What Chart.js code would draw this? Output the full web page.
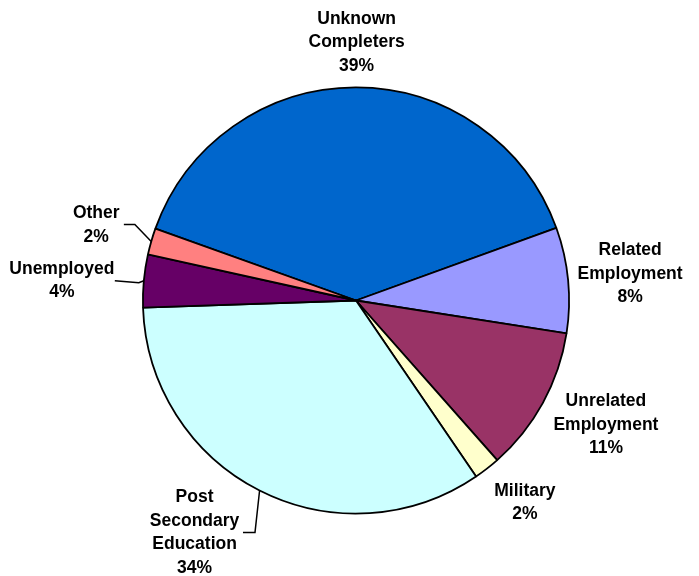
<!DOCTYPE html>
<html>
<head>
<meta charset="utf-8">
<script src="https://cdn.jsdelivr.net/npm/chart.js@4/dist/chart.umd.min.js"></script>
<style>
  html, body { margin: 0; padding: 0; background: #fff; }
  #wrap { width: 699px; height: 576px; }
</style>
</head>
<body>
<div id="wrap"><canvas id="pieChart"></canvas></div>
<script>
const categories = [
    ["Unknown", "Completers"],
    ["Related", "Employment"],
    ["Unrelated", "Employment"],
    ["Military"],
    ["Post", "Secondary", "Education"],
    ["Unemployed"],
    ["Other"]
]
const shares = [39, 8, 11, 2, 34, 4, 2]
const sliceColors = ["#0066CC", "#9999FF", "#993366", "#FFFFCC", "#CCFFFF", "#660066", "#FF8080"]

// label placement relative to the slice's outer edge point (mid angle)
const labelLayout = [
    { dx: 1, dy: -45 },
    { dx: 62, dy: -6 },
    { dx: 63, dy: 22 },
    { dx: 38, dy: 34 },
    { dx: -65, dy: 42, leader: [[-4.6, 42], [-16.6, 42]] },
    { dx: -82, dy: 0, leader: [[-5, 2], [-29, 0]] },
    { dx: -55, dy: -16, leader: [[-16.4, -17], [-27.4, -17]] }
]

const outsideLabels = {
    id: "outsideLabels",
    afterDraw(chart) {
        const ctx = chart.ctx
        const arcs = chart.getDatasetMeta(0).data
        ctx.save()
        ctx.font = "bold 17.5px 'Liberation Sans', Arial, sans-serif"
        ctx.fillStyle = "#000"
        ctx.textAlign = "center"
        ctx.textBaseline = "middle"
        arcs.forEach((arc, i) => {
            const mid = (arc.startAngle + arc.endAngle) / 2
            const ex = arc.x + Math.cos(mid) * arc.outerRadius
            const ey = arc.y + Math.sin(mid) * arc.outerRadius
            const lay = labelLayout[i]
            if (lay.leader) {
                ctx.beginPath()
                ctx.lineWidth = 1.5
                ctx.strokeStyle = "#000"
                ctx.moveTo(ex, ey)
                lay.leader.forEach(p => ctx.lineTo(ex + p[0], ey + p[1]))
                ctx.stroke()
            }
            const lines = categories[i].concat([shares[i] + "%"])
            const lh = 23.5
            const top = ey + lay.dy - (lines.length - 1) * lh / 2
            lines.forEach((t, k) => ctx.fillText(t, ex + lay.dx, top + k * lh))
        })
        ctx.restore()
    }
}

new Chart(document.getElementById("pieChart"), {
    type: "pie",
    data: {
        labels: categories.map(c => c.join(" ")),
        datasets: [{
            data: shares,
            backgroundColor: sliceColors,
            borderColor: "#000",
            borderWidth: 1.8
        }]
    },
    options: {
        responsive: true,
        maintainAspectRatio: false,
        animation: false,
        rotation: -70.3,
        layout: { padding: { top: 86, bottom: 61, left: 142, right: 129 } },
        plugins: {
            legend: { display: false },
            tooltip: { enabled: false }
        }
    },
    plugins: [outsideLabels]
})
</script>
</body>
</html>
